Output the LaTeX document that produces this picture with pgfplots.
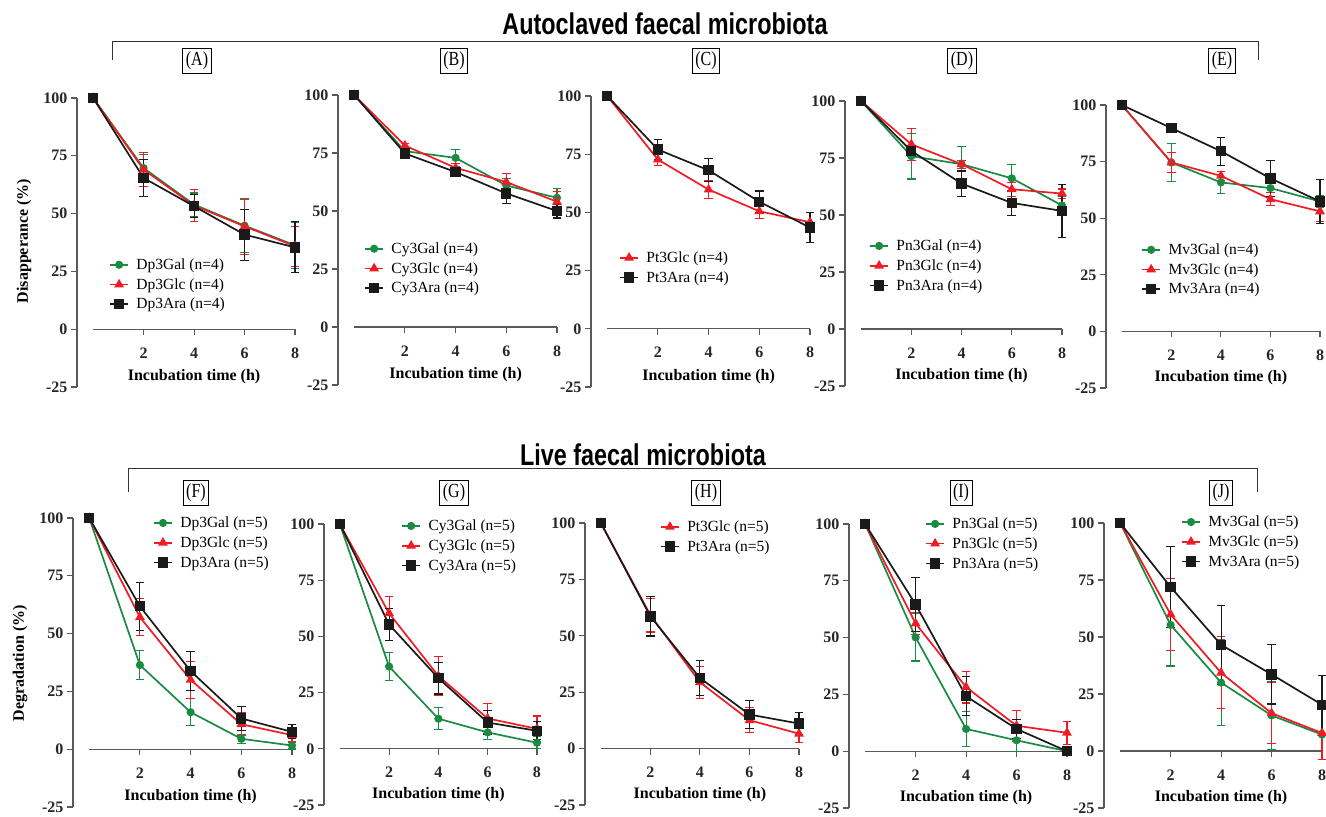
\documentclass[border=0pt]{standalone}
\usepackage{fontspec}
\setmainfont{Liberation Serif}
\newfontfamily\titlefont[FakeStretch=0.78]{Liberation Sans}
\newfontfamily\labfont[FakeStretch=0.8]{Liberation Serif}
\usepackage{pgfplots}
\pgfplotsset{compat=1.18}
\definecolor{cgreen}{HTML}{1B8A42}
\definecolor{cred}{HTML}{EE1C25}
\definecolor{cblack}{HTML}{1A1A1A}
\newcommand{\fs}[1]{\fontsize{#1}{#1}\selectfont}

\pgfplotsset{
  legend image code/.code={\draw[mark repeat=2,mark phase=2,#1] plot coordinates {(0pt,0pt) (9pt,0pt) (18pt,0pt)};},
  panel/.style n args={4}{at={(#1pt,-#2pt)}, width=#3pt, height=#4pt},
  legat/.style 2 args={legend style={at={(axis description cs:#1,#2)}}},
  base/.style={
    scale only axis, anchor=south west, clip=false,
    xmin=-0.64, xmax=8, ymin=-25, ymax=100,
    axis x line=middle, axis y line=left,
    axis line style={-, line width=1.2pt, black!65},
    x axis line style={shorten <=16pt},
    xtick={2,4,6,8}, ytick={-25,0,25,50,75,100},
    tick align=outside, major tick length=6pt,
    tick style={line width=1.1pt, black!65},
    ticklabel style={font=\bfseries\fs{16}, text=black!85},
    xticklabel style={yshift=-9pt},
    /pgf/number format/assume math mode=true,
    xlabel={Incubation time (h)},
    xlabel style={at={(axis description cs:0.537,0.037)}, anchor=center, font=\bfseries\fs{16}},
    ylabel style={font=\bfseries\fs{16}},
    legend style={draw=none, fill=none, anchor=north west, inner sep=0pt, row sep=4.5pt,
      font=\fs{15.5}, nodes={inner sep=1.5pt},
      /tikz/every odd column/.append style={column sep=6pt}},
    legend cell align=left,
    error bars/y dir=both, error bars/y explicit,
    error bars/error bar style={line width=1.1pt},
    error bars/error mark options={rotate=90, mark size=4.3pt, line width=1.1pt},
  },
  gal/.style={color=cgreen, mark=*, mark size=3.2pt, line width=1.7pt},
  glc/.style={color=cred, mark=triangle*, mark size=4pt, line width=1.7pt},
  ara/.style={color=cblack, mark=square*, mark size=4.3pt, line width=1.7pt},
}

\begin{document}
\begin{tikzpicture}
\useasboundingbox (0pt,0pt) rectangle (1326pt,-817pt);

% headings and brackets
\node[font=\titlefont\bfseries\fs{30}] at (665pt,-24pt) {Autoclaved faecal microbiota};
\draw[line width=1pt, black!80] (112pt,-60pt) -- (112pt,-41pt) -- (1258pt,-41pt) -- (1258pt,-60pt);
\node[font=\titlefont\bfseries\fs{30}] at (643pt,-455pt) {Live faecal microbiota};
\draw[line width=1pt, black!80] (128pt,-492pt) -- (128pt,-468pt) -- (1257pt,-468pt) -- (1257pt,-492pt);
\foreach \lab/\x/\y in {A/197/61, B/454/61, C/706/61, D/962/61, E/1222/61,
                        F/196/493, G/454/493, H/706/493, I/961/493, J/1221/493}
  \node[draw, line width=1pt, inner sep=3pt, font=\labfont\fs{20}] at (\x pt,-\y pt) {(\lab)};

% (A) Dp3, autoclaved
\begin{axis}[base, panel={77}{387}{218}{289}, legat={0.147}{0.45},
  ylabel={Disapperance (\%)},
  ylabel style={at={(axis description cs:-0.243,0.505)}, anchor=center}]
\addplot[gal] coordinates {(0,100) +- (0,0) (2,69.7) +- (0,6) (4,53.9) +- (0,5) (6,44.8) +- (0,11.5) (8,36.3) +- (0,10)};
\addplot[glc] coordinates {(0,100) +- (0,0) (2,69) +- (0,7.4) (4,53.5) +- (0,6.8) (6,44.5) +- (0,12) (8,35.9) +- (0,8.6)};
\addplot[ara] coordinates {(0,100) +- (0,0) (2,65.4) +- (0,8) (4,53.2) +- (0,5) (6,40.9) +- (0,11) (8,35.4) +- (0,11)};
\legend{Dp3Gal (n=4), Dp3Glc (n=4), Dp3Ara (n=4)}
\end{axis}

% (B) Cy3, autoclaved
\begin{axis}[base, panel={338}{385}{219}{290}, legat={0.119}{0.497}]
\addplot[gal] coordinates {(0,100) +- (0,0) (2,75.8) +- (0,1.5) (4,72.9) +- (0,3.7) (6,61) +- (0,3) (8,55.7) +- (0,3.9)};
\addplot[glc] coordinates {(0,100) +- (0,0) (2,78.2) +- (0,1) (4,68.6) +- (0,2) (6,62.5) +- (0,3.7) (8,54) +- (0,4.6)};
\addplot[ara] coordinates {(0,100) +- (0,0) (2,74.8) +- (0,2) (4,66.8) +- (0,1) (6,57.6) +- (0,4.4) (8,50) +- (0,3)};
\legend{Cy3Gal (n=4), Cy3Glc (n=4), Cy3Ara (n=4)}
\end{axis}

% (C) Pt3, autoclaved
\begin{axis}[base, panel={591}{387}{219}{291}, legat={0.128}{0.471}]
\addplot[glc] coordinates {(0,100) +- (0,0) (2,72.7) +- (0,2.5) (4,59.8) +- (0,4) (6,50.5) +- (0,3) (8,45.8) +- (0,4)};
\addplot[ara] coordinates {(0,100) +- (0,0) (2,77) +- (0,4.5) (4,68.1) +- (0,5) (6,54.6) +- (0,4.6) (8,43.5) +- (0,6.5)};
\legend{Pt3Glc (n=4), Pt3Ara (n=4)}
\end{axis}

% (D) Pn3, autoclaved
\begin{axis}[base, panel={845}{386}{217}{285}, legat={0.111}{0.519}]
\addplot[gal] coordinates {(0,100) +- (0,0) (2,75.8) +- (0,10) (4,72.3) +- (0,7.6) (6,66.1) +- (0,5.9) (8,54.2) +- (0,4)};
\addplot[glc] coordinates {(0,100) +- (0,0) (2,81) +- (0,7) (4,72.3) +- (0,1.8) (6,61.3) +- (0,3) (8,59.4) +- (0,2)};
\addplot[ara] coordinates {(0,100) +- (0,0) (2,78.1) +- (0,2.5) (4,63.8) +- (0,5.5) (6,55.3) +- (0,5.5) (8,51.8) +- (0,11.6)};
\legend{Pn3Gal (n=4), Pn3Glc (n=4), Pn3Ara (n=4)}
\end{axis}

% (E) Mv3, autoclaved
\begin{axis}[base, panel={1106}{388}{214}{283}, legat={0.164}{0.516}]
\addplot[gal] coordinates {(0,100) +- (0,0) (2,74.6) +- (0,8.2) (4,65.8) +- (0,4.8) (6,63.3) +- (0,2) (8,57.4) +- (0,2.8)};
\addplot[glc] coordinates {(0,100) +- (0,0) (2,74.6) +- (0,4.6) (4,68.7) +- (0,2) (6,58.4) +- (0,2.8) (8,53) +- (0,4.4)};
\addplot[ara] coordinates {(0,100) +- (0,0) (2,89.8) +- (0,1) (4,79.6) +- (0,6.2) (6,67.6) +- (0,8) (8,57.4) +- (0,9.6)};
\legend{Mv3Gal (n=4), Mv3Glc (n=4), Mv3Ara (n=4)}
\end{axis}

% (F) Dp3, live
\begin{axis}[base, panel={73}{807}{219}{289}, legat={0.365}{1.01},
  ylabel={Degradation (\%)},
  ylabel style={at={(axis description cs:-0.242,0.498)}, anchor=center}]
\addplot[gal] coordinates {(0,100) +- (0,0) (2,36.4) +- (0,6.2) (4,16) +- (0,5.9) (6,4.5) +- (0,2) (8,1.6) +- (0,1.5)};
\addplot[glc] coordinates {(0,100) +- (0,0) (2,57.1) +- (0,8) (4,30) +- (0,8) (6,10.8) +- (0,5) (8,6.1) +- (0,3)};
\addplot[ara] coordinates {(0,100) +- (0,0) (2,61.8) +- (0,10.4) (4,33.8) +- (0,8.6) (6,13.3) +- (0,5.2) (8,7.5) +- (0,3)};
\legend{Dp3Gal (n=5), Dp3Glc (n=5), Dp3Ara (n=5)}
\end{axis}

% (G) Cy3, live
\begin{axis}[base, panel={324}{805}{213}{281}, legat={0.362}{1.021}]
\addplot[gal] coordinates {(0,100) +- (0,0) (2,36.6) +- (0,6.2) (4,13.4) +- (0,5) (6,7.3) +- (0,3) (8,2.7) +- (0,2.7)};
\addplot[glc] coordinates {(0,100) +- (0,0) (2,60.3) +- (0,7.4) (4,32.4) +- (0,8.6) (6,13.5) +- (0,6.7) (8,8.9) +- (0,5.7)};
\addplot[ara] coordinates {(0,100) +- (0,0) (2,55.3) +- (0,7) (4,31.4) +- (0,7) (6,11.7) +- (0,5.2) (8,8) +- (0,4)};
\legend{Cy3Gal (n=5), Cy3Glc (n=5), Cy3Ara (n=5)}
\end{axis}

% (H) Pt3, live
\begin{axis}[base, panel={585}{805}{214}{282}, legat={0.35}{1.014}]
\addplot[glc] coordinates {(0,100) +- (0,0) (2,59.2) +- (0,7.5) (4,29.4) +- (0,7) (6,12.6) +- (0,5.5) (8,6.6) +- (0,4)};
\addplot[ara] coordinates {(0,100) +- (0,0) (2,58.6) +- (0,8.7) (4,31.3) +- (0,7.6) (6,15.1) +- (0,6.3) (8,11.1) +- (0,4.8)};
\legend{Pt3Glc (n=5), Pt3Ara (n=5)}
\end{axis}

% (I) Pn3, live
\begin{axis}[base, panel={849}{808}{218}{284}, legat={0.349}{1.028}]
\addplot[gal] coordinates {(0,100) +- (0,0) (2,50.1) +- (0,10.4) (4,9.8) +- (0,7.6) (6,4.8) +- (0,4.8) (8,0) +- (0,0)};
\addplot[glc] coordinates {(0,100) +- (0,0) (2,56.2) +- (0,5) (4,28.2) +- (0,7) (6,11.2) +- (0,6.8) (8,8.1) +- (0,5)};
\addplot[ara] coordinates {(0,100) +- (0,0) (2,64.6) +- (0,11.8) (4,24.2) +- (0,8.6) (6,9.8) +- (0,4.3) (8,0) +- (0,0)};
\legend{Pn3Gal (n=5), Pn3Glc (n=5), Pn3Ara (n=5)}
\end{axis}

% (J) Mv3, live
\begin{axis}[base, panel={1104}{808}{218}{285}, legat={0.353}{1.031}]
\addplot[gal] coordinates {(0,100) +- (0,0) (2,55.3) +- (0,18) (4,30) +- (0,19) (6,15.6) +- (0,15) (8,7.2) +- (0,11)};
\addplot[glc] coordinates {(0,100) +- (0,0) (2,59.9) +- (0,15.8) (4,34.3) +- (0,15.8) (6,16.6) +- (0,13.4) (8,7.9) +- (0,11.5)};
\addplot[ara] coordinates {(0,100) +- (0,0) (2,71.9) +- (0,17.6) (4,46.6) +- (0,17.3) (6,33.6) +- (0,13) (8,20.3) +- (0,12.9)};
\legend{Mv3Gal (n=5), Mv3Glc (n=5), Mv3Ara (n=5)}
\end{axis}
\end{tikzpicture}
\end{document}
